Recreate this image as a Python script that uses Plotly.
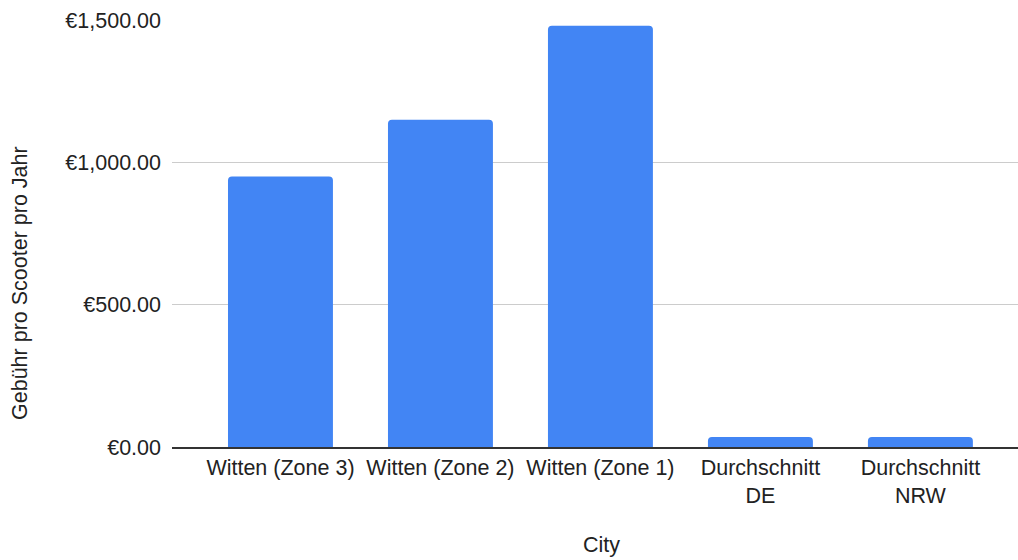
import plotly.graph_objects as go

categories = ["Witten (Zone 3)", "Witten (Zone 2)", "Witten (Zone 1)", "Durchschnitt<br>DE", "Durchschnitt<br>NRW"]
values = [950, 1150, 1480, 35, 35]
y_ticks = [0, 500, 1000, 1500]
y_tick_labels = ["€0.00", "€500.00", "€1,000.00", "€1,500.00"]

font_family = "Liberation Sans, Arial, sans-serif"
fs = 21.5
txt = "#222222"

W, H = 1018, 560
L, R, T, B = 172, 0, 20, 113
pw = W - L - R
ph = H - T - B

fig = go.Figure(go.Bar(
    x=list(range(len(categories))),
    y=values,
    marker=dict(color="#4285F4", line=dict(width=0), cornerradius=4),
    width=0.656,
))

fig.update_layout(
    width=W, height=H,
    margin=dict(l=L, r=R, t=T, b=B, autoexpand=False),
    paper_bgcolor="white", plot_bgcolor="white",
    font=dict(family=font_family, size=fs, color=txt),
    showlegend=False,
    xaxis=dict(
        range=[-0.678, 4.61],
        tickmode="array", tickvals=list(range(len(categories))), ticktext=categories,
        showgrid=False, zeroline=False,
        showline=True, linecolor="#333333", linewidth=2,
        ticks="", tickfont=dict(size=fs, color=txt),
    ),
    yaxis=dict(
        range=[0, 1500],
        tickmode="array", tickvals=y_ticks, ticktext=y_tick_labels,
        showgrid=True, gridcolor="#cccccc", gridwidth=1,
        zeroline=False, showline=False, ticks="",
        tickfont=dict(size=fs, color=txt),
        ticklabelstandoff=10,
    ),
    annotations=[
        dict(text="Gebühr pro Scooter pro Jahr", textangle=-90, showarrow=False,
             xref="paper", yref="paper", x=(20 - L) / pw, y=(447 - 283) / ph,
             xanchor="center", yanchor="middle", font=dict(size=fs, color=txt)),
        dict(text="City", showarrow=False,
             xref="paper", yref="paper", x=(601 - L) / pw, y=(447 - 545) / ph,
             xanchor="center", yanchor="middle", font=dict(size=fs, color=txt)),
    ],
)

fig.write_html("out.html", config={"displayModeBar": False},
               post_script="document.body.style.margin='0';document.body.style.overflow='hidden';")
